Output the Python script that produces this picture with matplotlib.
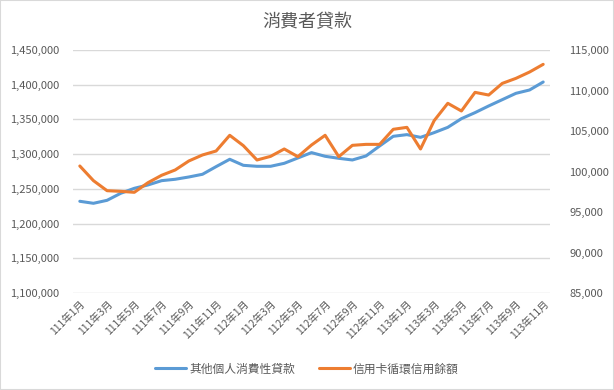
import matplotlib
matplotlib.use("Agg")
import matplotlib.pyplot as plt
from matplotlib.ticker import FuncFormatter, MultipleLocator
from matplotlib.patches import Rectangle

plt.rcParams['font.family'] = ['Noto Sans CJK TC', 'DejaVu Sans']

# months 111年1月 .. 113年11月
months = [f"{y}年{m}月" for y in (111, 112, 113) for m in range(1, 13)][:35]

other_loans = [1232100, 1229200, 1233500, 1243600, 1250800, 1255600, 1261800, 1263800,
               1267100, 1271000, 1282000, 1292600, 1283900, 1282500, 1282500, 1286800,
               1294500, 1302200, 1296900, 1294000, 1291600, 1297400, 1311800, 1325700,
               1328100, 1324200, 1331000, 1338600, 1351100, 1359800, 1369400, 1378500,
               1387600, 1392400, 1403900]

card_revolving = [100680, 98870, 97630, 97550, 97430, 98620, 99530, 100190,
                  101300, 102040, 102530, 104470, 103190, 101420, 101870, 102780,
                  101830, 103270, 104470, 101830, 103230, 103350, 103350, 105210,
                  105450, 102780, 106280, 108420, 107470, 109770, 109440, 110880,
                  111500, 112280, 113230]

blue = '#5b9bd5'
orange = '#ed7d31'
grey = '#595959'

fig = plt.figure(figsize=(6.14, 3.9), dpi=100)
ax = fig.add_axes([73 / 614, 1 - 293 / 390, 477 / 614, 243 / 390])
ax2 = ax.twinx()

x = list(range(len(months)))
l1, = ax.plot(x, other_loans, color=blue, lw=2.2, solid_capstyle='round', label='其他個人消費性貸款')
l2, = ax2.plot(x, card_revolving, color=orange, lw=2.2, solid_capstyle='round', label='信用卡循環信用餘額')

ax.set_xlim(-0.5, len(months) - 0.5)
ax.set_ylim(1100000, 1450000)
ax.yaxis.set_major_locator(MultipleLocator(50000))
ax2.set_ylim(85000, 115000)
ax2.yaxis.set_major_locator(MultipleLocator(5000))
fmt = FuncFormatter(lambda v, p: f"{v:,.0f}")
ax.yaxis.set_major_formatter(fmt)
ax2.yaxis.set_major_formatter(fmt)

ax.grid(axis='y', color='#d9d9d9', lw=1)
ax.set_axisbelow(True)
for a in (ax, ax2):
    for s in a.spines.values():
        s.set_visible(False)
    a.tick_params(length=0, colors=grey, labelsize=8)
ax.tick_params(axis='y', pad=10)
ax2.tick_params(axis='y', pad=14)

ax.set_xticks(x[::2])
ax.set_xticklabels(months[::2], rotation=45, ha='right', rotation_mode='anchor', fontsize=7.5)
ax.tick_params(axis='x', pad=4)

fig.text(0.5, 1 - 22 / 390, '消費者貸款', ha='center', va='center', fontsize=13, color=grey)

fig.legend(handles=[l1, l2], loc='center', bbox_to_anchor=(0.5, 1 - 369 / 390), ncol=2,
           frameon=False, fontsize=8.5, labelcolor=grey, handlelength=2.6, columnspacing=2.0,
           handletextpad=0.3)

fig.patches.append(Rectangle((0, 0), 1, 1, transform=fig.transFigure, fill=False,
                             edgecolor='#d9d9d9', lw=1.5))

fig.savefig('out.png', dpi=100)
